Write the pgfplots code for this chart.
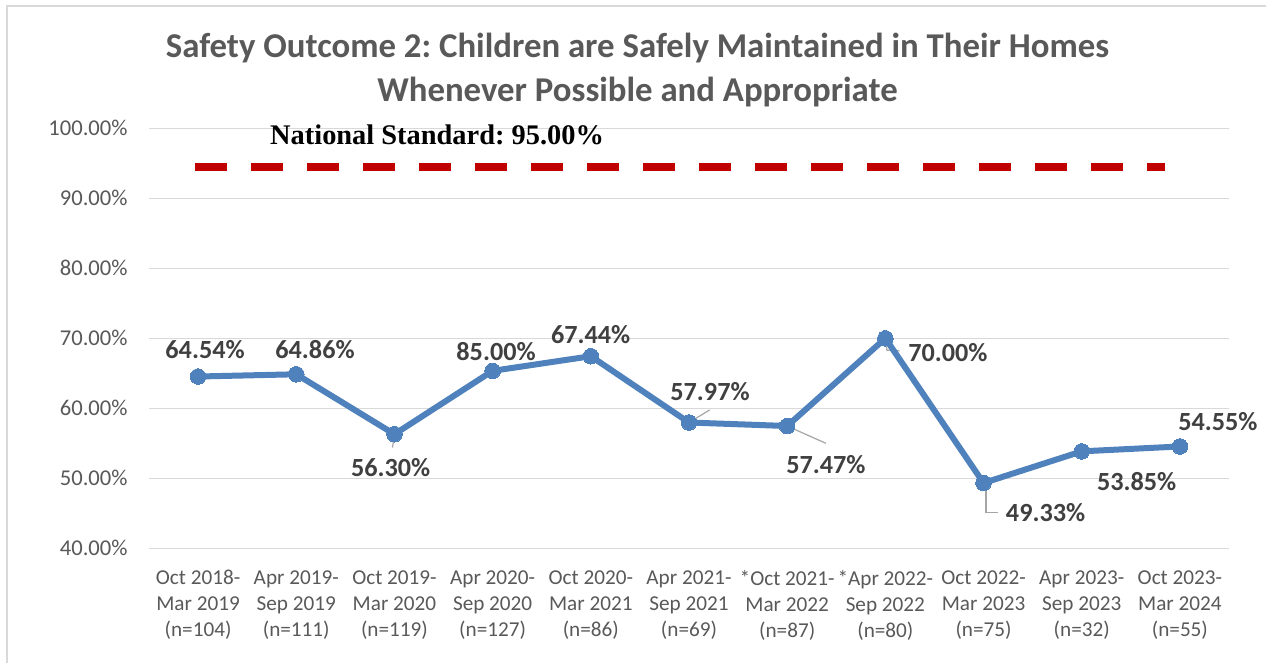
\documentclass[border=0pt]{standalone}
\usepackage{pgfplots}
\pgfplotsset{compat=1.18}
\usepackage{fontspec}
\setmainfont{Carlito}
\newfontfamily\serifb{Liberation Serif}
\definecolor{lineblue}{HTML}{4F81BD}
\definecolor{gridc}{HTML}{D9D9D9}
\definecolor{txt}{HTML}{595959}
\definecolor{lbl}{HTML}{404040}
\definecolor{stdred}{HTML}{C00000}
\definecolor{leader}{HTML}{A6A6A6}
\frenchspacing

\begin{document}
\begin{tikzpicture}
\useasboundingbox (0pt,0pt) rectangle (633pt,-331.5pt);
\fill[white] (0pt,0pt) rectangle (633pt,-331.5pt);
\draw[gridc, line width=1pt] (3.5pt,-331.5pt) -- (3.5pt,-3pt) -- (633pt,-3pt);
\node[font=\bfseries\fontsize{17.4}{22}\selectfont, text=txt, align=center] at (318.75pt,-35pt)
  {Safety Outcome 2: Children are Safely Maintained in Their Homes\\Whenever Possible and Appropriate};
\begin{axis}[
  at={(74.5pt,-274.15pt)}, anchor=south west,
  scale only axis, width=540pt, height=210pt,
  xmin=-0.5, xmax=10.5, ymin=40, ymax=100,
  ytick={40,50,60,70,80,90,100},
  yticklabels={40.00\%,50.00\%,60.00\%,70.00\%,80.00\%,90.00\%,100.00\%},
  xtick={0,1,2,3,4,5,6,7,8,9,10},
  xticklabels={{Oct 2018-\\Mar 2019\\(n=104)},{Apr 2019-\\Sep 2019\\(n=111)},{Oct 2019-\\Mar 2020\\(n=119)},{Apr 2020-\\Sep 2020\\(n=127)},{Oct 2020-\\Mar 2021\\(n=86)},{Apr 2021-\\Sep 2021\\(n=69)},{*Oct 2021-\\Mar 2022\\(n=87)},{*Apr 2022-\\Sep 2022\\(n=80)},{Oct 2022-\\Mar 2023\\(n=75)},{Apr 2023-\\Sep 2023\\(n=32)},{Oct 2023-\\Mar 2024\\(n=55)}},
  ymajorgrids, grid style={gridc, line width=0.75pt},
  axis line style={draw=none},
  major tick length=0pt,
  yticklabel style={font=\fontsize{11.3}{14}\selectfont, text=txt, anchor=east, xshift=-7.2pt},
  xticklabel style={font=\fontsize{10.6}{13}\selectfont, text=txt, align=center, anchor=north, yshift=-7.5pt},
  clip=false,
]
% leader lines
\draw[leader, line width=0.6pt] (axis cs:2,56.3) -- (axis cs:1.98,54.4);
\draw[leader, line width=0.6pt] (axis cs:5,57.97) -- (axis cs:5.21,59.76);
\draw[leader, line width=0.6pt] (axis cs:6,57.47) -- (axis cs:6.394,55.0);
\draw[leader, line width=0.6pt] (axis cs:7,70) -- (axis cs:7.016,68.3) -- (axis cs:7.145,68.2);
\draw[leader, line width=0.6pt] (axis cs:8.024,49.33) -- (axis cs:8.024,45.14) -- (axis cs:8.15,45.14);

\addplot[stdred, line width=4pt, dash pattern=on 16pt off 12pt, line cap=butt] coordinates {(-0.0305,94.5) (9.847,94.5)};

\addplot[lineblue, line width=3pt, line join=round, mark=*, mark size=3.9pt,
  mark options={fill=lineblue, draw=lineblue, line width=0pt}]
  coordinates {(0,64.54) (1,64.86) (2,56.30) (3,65.35) (4,67.44) (5,57.97) (6,57.47) (7,70.00) (8,49.33) (9,53.85) (10,54.55)};

\node[font=\serifb\bfseries\fontsize{14.2}{16}\selectfont] at (axis cs:2.434,99.04) {National Standard: 95.00\%};

\tikzset{dl/.style={font=\bfseries\fontsize{13.1}{15}\selectfont, text=lbl}}
\node[dl] at (axis cs:0.071,68.36) {64.54\%};
\node[dl] at (axis cs:1.191,68.36) {64.86\%};
\node[dl] at (axis cs:1.962,51.47) {56.30\%};
\node[dl] at (axis cs:3.035,68.04) {85.00\%};
\node[dl] at (axis cs:3.999,70.47) {67.44\%};
\node[dl] at (axis cs:5.214,62.37) {57.97\%};
\node[dl] at (axis cs:6.395,51.9) {57.47\%};
\node[dl] at (axis cs:7.637,67.9) {70.00\%};
\node[dl] at (axis cs:8.632,45.04) {49.33\%};
\node[dl] at (axis cs:9.559,49.51) {53.85\%};
\node[dl] at (axis cs:10.387,58.09) {54.55\%};
\end{axis}
\end{tikzpicture}
\end{document}
